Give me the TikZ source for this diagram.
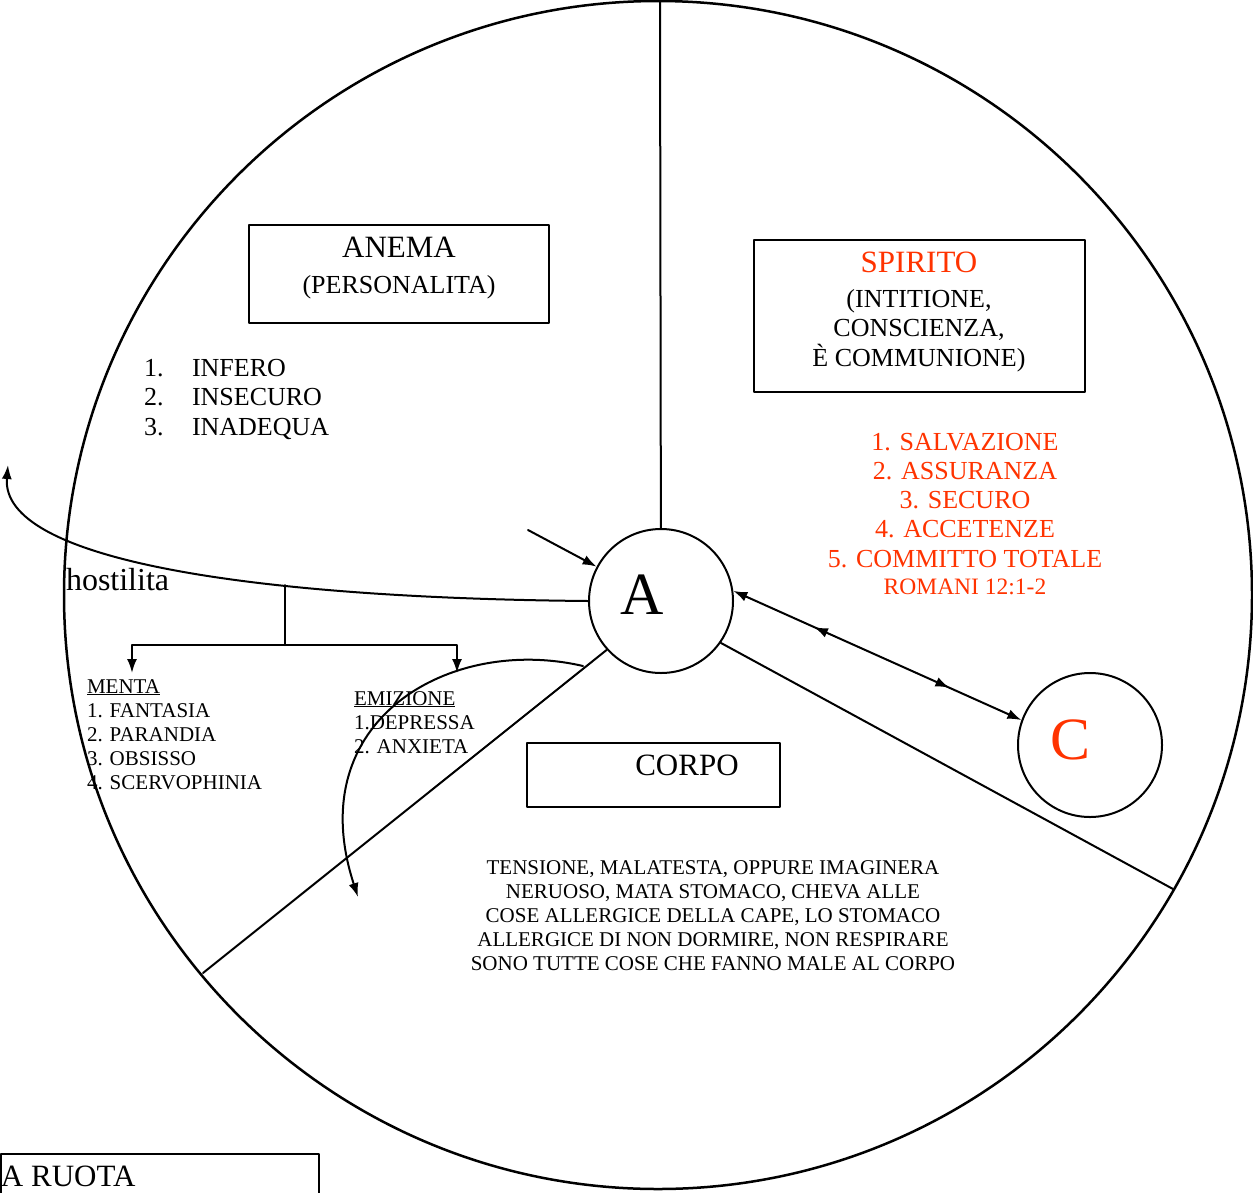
\documentclass[tikz,border=0pt]{standalone}
\usepackage{fontspec}
\setmainfont{Liberation Serif}
\usetikzlibrary{decorations.markings,arrows.meta}
\definecolor{rosso}{RGB}{255,51,0}
\begin{document}
\begin{tikzpicture}[x=1pt,y=-1pt,line join=round,line cap=round,>={Latex[length=14pt,width=10pt]},line width=2pt]
		\tikzset{box/.style={draw,inner sep=0pt},
			ring/.style={draw,circle,inner sep=0pt,minimum size=144pt},
			letter/.style={inner sep=0pt,font=\fontsize{60}{60}\selectfont},
			big/.style={font=\fontsize{31}{36}\selectfont},
			mid/.style={font=\fontsize{26}{30}\selectfont},
			small/.style={font=\fontsize{21}{24}\selectfont},
			txt/.style={anchor=base west,inner sep=0pt},
			ctxt/.style={anchor=base,inner sep=0pt}}
		\useasboundingbox (0,0) rectangle (1253,1192);
		% la ruota
		\draw[line width=2.5pt] (658,595) circle (594pt);
		\node[ring] (A) at (661,601) {};
		\node[letter] (A-t) at ([xshift=-19pt,yshift=6pt]A.center) {A};
		\node[ring] (C) at (1090,745) {};
		\node[letter,text=rosso] (C-t) at ([xshift=-20pt,yshift=5pt]C.center) {C};
		\coordinate (top) at (660,1);
		\coordinate (sw) at (203,973);
		\coordinate (se) at (1173,889);
		\draw (top) -- (A);
		\draw (A.222) -- (sw);
		\draw (A.-35) -- (se);
		\draw[<->,postaction={decorate},decoration={markings,
			mark=at position 0.28 with {\arrowreversed{Latex[length=14pt,width=10pt]}},
			mark=at position 0.75 with {\arrow{Latex[length=14pt,width=10pt]}}}] (A.8) -- (C.160);
		\coordinate (pin) at (528,530);
		\draw[->] (pin) -- (A);
		% hostilita
		\coordinate (up) at (8,465);
		\draw[->] (A.west) .. controls (250,598) and (0,560) .. (up);
		\coordinate (hb) at (285,585);
		\coordinate (fork) at (285,645);
		\coordinate (mt) at (132,673);
		\coordinate (et) at (457,673);
		\draw (hb) -- (fork);
		\draw[->] (fork) -| (mt);
		\draw[->] (fork) -| (et);
		\coordinate (es) at (583,666);
		\coordinate (ee) at (358,897);
		\draw[->] (es) .. controls (450,635) and (300,720) .. (ee);
		% anema
		\node[box,minimum width=300pt,minimum height=98pt] (anema) at (399,274) {};
		\node[big,ctxt] (anema-a) at (399,257) {ANEMA};
		\node[mid,ctxt] (anema-b) at (399,293) {(PERSONALITA)};
		\foreach \n/\t in {1/INFERO,2/INSECURO,3/INADEQUA}{
			\node[mid,txt] (num\n) at (143,{376+29.5*(\n-1)}) {\n.};
			\node[mid,txt] (inf\n) at (191,{376+29.5*(\n-1)}) {\t};}
		% spirito
		\node[box,minimum width=331pt,minimum height=152pt] (spirito) at (919.5,316) {};
		\node[big,ctxt,text=rosso] (spirito-a) at (919,272) {SPIRITO};
		\foreach \t [count=\i] in {{(INTITIONE,},{CONSCIENZA,},{È COMMUNIONE)}}
			\node[mid,ctxt] (spirito\i) at (919,{307+29.5*(\i-1)}) {\t};
		\foreach \t [count=\i] in {1. SALVAZIONE,2. ASSURANZA,3. SECURO,4. ACCETENZE,5. COMMITTO TOTALE}
			\node[mid,ctxt,text=rosso] (sal\i) at (965,{450+29.3*(\i-1)}) {\t};
		\node[ctxt,text=rosso,font=\fontsize{23.5}{28}\selectfont] (romani) at (965,594) {ROMANI 12:1-2};
		% menta, emizione
		\node[txt,font=\fontsize{32}{36}\selectfont] (host) at (65,590) {hostilita};
		\node[small,txt] (menta) at (86,693) {\underline{MENTA}};
		\foreach \t [count=\i] in {1. FANTASIA,2. PARANDIA,3. OBSISSO,4. SCERVOPHINIA}
			\node[small,txt] (menta\i) at (86,{717+24*(\i-1)}) {\t};
		\node[small,txt] (emi) at (353,705) {\underline{EMIZIONE}};
		\node[small,txt] (emi1) at (353,729) {1.DEPRESSA};
		\node[small,txt] (emi2) at (353,753) {2. ANXIETA};
		% corpo
		\node[box,minimum width=253pt,minimum height=64pt] (corpo) at (653.5,775) {};
		\node[big,ctxt] (corpo-a) at (687,775) {CORPO};
		\foreach \t [count=\i] in {{TENSIONE, MALATESTA, OPPURE IMAGINERA},{NERUOSO, MATA STOMACO, CHEVA ALLE},
			{COSE ALLERGICE DELLA CAPE, LO STOMACO},{ALLERGICE DI NON DORMIRE, NON RESPIRARE},
			{SONO TUTTE COSE CHE FANNO MALE AL CORPO}}
			\node[small,ctxt] (corpo\i) at (713,{874+24*(\i-1)}) {\t};
		% ruota
		\node[box,minimum width=318pt,minimum height=60pt,anchor=north west] (ruota) at (0,1153) {};
		\node[big,txt] (ruota-a) at (0,1186) {A RUOTA};
\end{tikzpicture}
\end{document}
